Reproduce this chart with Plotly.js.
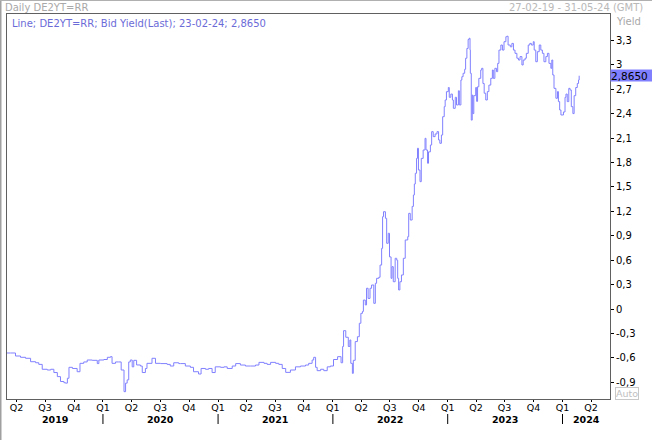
<!DOCTYPE html>
<html>
<head>
<meta charset="utf-8">
<script src="https://cdn.plot.ly/plotly-3.0.1.min.js"></script>
<style>
html,body{margin:0;padding:0;background:#fff;}
#chart{width:652px;height:440px;}
</style>
</head>
<body>
<div id="chart"></div>
<script>
// ---- data ----
const dates = [
"2019-02-27","2019-03-13","2019-03-29","2019-04-14","2019-04-30","2019-05-16","2019-06-01","2019-06-11","2019-06-22","2019-07-08",
"2019-07-19","2019-07-29","2019-08-09","2019-08-19","2019-08-30","2019-09-04","2019-09-10","2019-09-15","2019-09-26","2019-10-11",
"2019-10-20","2019-11-01","2019-11-12","2019-11-28","2019-12-14","2019-12-19","2020-01-04","2020-01-15","2020-01-25","2020-01-30",
"2020-02-10","2020-02-20","2020-02-28","2020-03-08","2020-03-13","2020-03-18","2020-03-23","2020-03-28","2020-04-03","2020-04-08",
"2020-04-17","2020-04-29","2020-05-05","2020-05-15","2020-05-20","2020-06-05","2020-06-16","2020-07-02","2020-07-23","2020-08-02",
"2020-08-13","2020-08-29","2020-09-03","2020-09-19","2020-10-05","2020-10-15","2020-10-31","2020-11-08","2020-11-22","2020-12-02",
"2020-12-13","2020-12-23","2021-01-09","2021-01-20","2021-01-30","2021-02-15","2021-02-26","2021-03-13","2021-03-29","2021-04-14",
"2021-04-30","2021-05-11","2021-05-27","2021-06-06","2021-06-17","2021-07-03","2021-07-13","2021-07-24","2021-08-04","2021-08-19",
"2021-09-04","2021-09-20","2021-10-06","2021-10-16","2021-10-27","2021-11-01","2021-11-07","2021-11-12","2021-11-23","2021-12-03",
"2021-12-14","2021-12-24","2022-01-03","2022-01-16","2022-01-27","2022-02-01","2022-02-04","2022-02-11","2022-02-19","2022-02-24",
"2022-02-27","2022-03-04","2022-03-07","2022-03-13","2022-03-20","2022-03-26","2022-03-31","2022-04-05","2022-04-08","2022-04-14",
"2022-04-18","2022-04-23","2022-04-29","2022-05-04","2022-05-11","2022-05-16","2022-05-20","2022-05-27","2022-05-31","2022-06-05",
"2022-06-08","2022-06-11","2022-06-17","2022-06-21","2022-06-26","2022-06-30","2022-07-05","2022-07-08","2022-07-12","2022-07-18",
"2022-07-23","2022-07-26","2022-07-29","2022-08-02","2022-08-07","2022-08-13","2022-08-19","2022-08-27","2022-08-30","2022-09-04",
"2022-09-10","2022-09-14","2022-09-17","2022-09-20","2022-09-24","2022-09-27","2022-09-30","2022-10-05","2022-10-09","2022-10-15",
"2022-10-21","2022-10-24","2022-10-29","2022-11-01","2022-11-07","2022-11-11","2022-11-16","2022-11-22","2022-11-28","2022-12-03",
"2022-12-07","2022-12-12","2022-12-16","2022-12-21","2022-12-24","2022-12-28","2023-01-03","2023-01-06","2023-01-11","2023-01-16",
"2023-01-19","2023-01-25","2023-01-29","2023-02-04","2023-02-07","2023-02-12","2023-02-15","2023-02-19","2023-02-24","2023-02-27",
"2023-03-03","2023-03-07","2023-03-10","2023-03-13","2023-03-14","2023-03-17","2023-03-20","2023-03-22","2023-03-25","2023-03-31",
"2023-04-03","2023-04-06","2023-04-10","2023-04-16","2023-04-19","2023-04-23","2023-04-27","2023-05-02","2023-05-07","2023-05-12",
"2023-05-18","2023-05-23","2023-05-26","2023-05-31","2023-06-05","2023-06-09","2023-06-13","2023-06-19","2023-06-24","2023-06-29",
"2023-07-05","2023-07-08","2023-07-12","2023-07-19","2023-07-24","2023-07-29","2023-08-03","2023-08-09","2023-08-14","2023-08-19",
"2023-08-25","2023-08-29","2023-09-04","2023-09-08","2023-09-14","2023-09-19","2023-09-24","2023-09-30","2023-10-03","2023-10-08",
"2023-10-13","2023-10-19","2023-10-24","2023-10-29","2023-11-03","2023-11-09","2023-11-14","2023-11-19","2023-11-25","2023-11-28",
"2023-12-01","2023-12-05","2023-12-11","2023-12-16","2023-12-19","2023-12-23","2023-12-27","2024-01-04","2024-01-09","2024-01-12",
"2024-01-16","2024-01-21","2024-01-25","2024-01-29","2024-02-03","2024-02-07","2024-02-12","2024-02-17","2024-02-21","2024-02-23"
];
const yields = [
-0.54,-0.54,-0.577,-0.593,-0.605,-0.647,-0.66,-0.68,-0.74,-0.749,
-0.74,-0.78,-0.83,-0.89,-0.905,-0.91,-0.85,-0.716,-0.73,-0.77,
-0.667,-0.65,-0.626,-0.63,-0.67,-0.626,-0.62,-0.593,-0.585,-0.667,
-0.65,-0.65,-0.749,-1.015,-0.91,-0.87,-0.65,-0.626,-0.71,-0.63,
-0.687,-0.70,-0.78,-0.73,-0.667,-0.605,-0.667,-0.67,-0.68,-0.70,
-0.66,-0.67,-0.67,-0.70,-0.716,-0.77,-0.798,-0.73,-0.74,-0.73,
-0.78,-0.71,-0.716,-0.71,-0.73,-0.70,-0.67,-0.688,-0.70,-0.70,
-0.688,-0.655,-0.667,-0.68,-0.655,-0.667,-0.68,-0.73,-0.778,-0.749,
-0.71,-0.70,-0.688,-0.667,-0.626,-0.593,-0.716,-0.757,-0.74,-0.757,
-0.71,-0.70,-0.62,-0.585,-0.66,-0.46,-0.266,-0.347,-0.46,-0.38,
-0.667,-0.79,-0.63,-0.40,-0.34,-0.175,-0.053,-0.03,0.11,0.05,
0.255,0.13,0.255,0.295,0.07,0.316,0.377,0.39,0.54,0.745,
1.134,1.195,1.114,0.807,0.93,0.64,0.377,0.52,0.335,0.623,
0.60,0.377,0.234,0.335,0.418,0.623,0.848,0.889,1.175,1.093,
1.26,1.40,1.535,1.667,1.85,1.974,1.707,1.564,1.85,1.953,
2.096,1.953,1.79,1.93,2.014,2.178,2.117,2.15,2.178,2.076,
2.035,2.137,2.362,2.485,2.567,2.669,2.72,2.60,2.64,2.567,
2.465,2.60,2.506,2.68,2.506,2.812,2.853,2.895,2.944,3.08,
3.20,3.31,3.325,3.18,2.895,2.32,2.628,2.40,2.62,2.72,
2.55,2.73,2.833,2.935,2.956,2.77,2.65,2.567,2.67,2.75,
2.833,2.935,2.833,2.956,2.915,3.017,3.18,3.242,3.18,3.283,
3.344,3.35,3.242,3.22,3.262,3.18,3.14,3.08,3.058,3.10,
2.997,3.058,3.08,3.14,3.242,3.262,3.242,3.283,3.18,3.037,
3.16,3.242,3.18,3.14,3.037,3.10,3.14,3.017,2.956,3.058,
2.874,2.71,2.588,2.67,2.547,2.444,2.383,2.42,2.60,2.64,
2.547,2.71,2.69,2.485,2.40,2.62,2.72,2.77,2.812,2.865
];
const yTickVals = [-0.9,-0.6,-0.3,0,0.3,0.6,0.9,1.2,1.5,1.8,2.1,2.4,2.7,3,3.3];
const yTickText = ["-0,9","-0,6","-0,3","0","0,3","0,6","0,9","1,2","1,5","1,8","2,1","2,4","2,7","3","3,3"];
const quarterDates = ["2019-04-01","2019-07-01","2019-10-01","2020-01-01","2020-04-01","2020-07-01","2020-10-01",
  "2021-01-01","2021-04-01","2021-07-01","2021-10-01","2022-01-01","2022-04-01","2022-07-01","2022-10-01",
  "2023-01-01","2023-04-01","2023-07-01","2023-10-01","2024-01-01","2024-04-01"];
const quarterLabels = ["Q2","Q3","Q4","Q1","Q2","Q3","Q4","Q1","Q2","Q3","Q4","Q1","Q2","Q3","Q4","Q1","Q2","Q3","Q4","Q1","Q2"];
const years = ["2019","2020","2021","2022","2023","2024"];
const yearStarts = ["2020-01-01","2021-01-01","2022-01-01","2023-01-01","2024-01-01"];
const rangeStart = "2019-03-02";
const rangeEnd = "2024-05-31";
const instrument = "DE2YT=RR";
const headerRange = "27-02-19 - 31-05-24 (GMT)";
const yRange = [-1.105, 3.623];

// ---- layout helpers ----
const L = 7, R = 610, T = 14, B = 399, W = 652, H = 440;
const pw = R - L, ph = B - T;
const px = x => (x - L) / pw;          // pixel x -> paper
const py = y => (B - y) / ph;          // pixel y -> paper
const FONT = "DejaVu Sans";

function ms(d){ return new Date(d + "T00:00:00Z").getTime(); }
function fmtDate(d){ const p = d.split("-"); return p[2] + "-" + p[1] + "-" + p[0].slice(2); }
const lastDate = dates[dates.length - 1];
const lastVal = yields[yields.length - 1];
const lastTxt = lastVal.toFixed(4).replace(".", ",");

const annotations = [];
// year labels centred on the visible part of each year
years.forEach(y => {
  const a = Math.max(ms(y + "-01-01"), ms(rangeStart));
  const b = Math.min(ms((+y + 1) + "-01-01"), ms(rangeEnd));
  const mid = new Date((a + b) / 2).toISOString().slice(0, 10);
  annotations.push({x: mid, xref: "x", y: py(419.5), yref: "paper", text: "<b>" + y + "</b>",
    showarrow: false, font: {family: FONT, size: 9.5, color: "#000"}, xanchor: "center", yanchor: "middle"});
});
annotations.push({x: px(3), xref: "paper", y: py(7.5), yref: "paper", text: "Daily " + instrument,
  showarrow: false, xanchor: "left", yanchor: "middle", font: {family: FONT, size: 10, color: "#a8a8a8"}});
annotations.push({x: px(645), xref: "paper", y: py(7.5), yref: "paper", text: headerRange,
  showarrow: false, xanchor: "right", yanchor: "middle", font: {family: FONT, size: 10, color: "#b8b8b8"}});
annotations.push({x: px(10), xref: "paper", y: py(23), yref: "paper",
  text: "Line; " + instrument + "; Bid Yield(Last); " + fmtDate(lastDate) + "; " + lastTxt,
  showarrow: false, xanchor: "left", yanchor: "middle", font: {family: FONT, size: 10, color: "#6b6bd8"}});
annotations.push({x: px(614), xref: "paper", y: py(21.5), yref: "paper", text: "Yield",
  showarrow: false, xanchor: "left", yanchor: "middle", font: {family: FONT, size: 10, color: "#a8a8a8"}});
annotations.push({x: 1, xref: "paper", y: lastVal, yref: "y", text: lastTxt,
  showarrow: false, xanchor: "left", yanchor: "middle", bgcolor: "#8080ff", borderpad: 0,
  width: 42, height: 11, align: "left", font: {family: FONT, size: 10.5, color: "#000"}});
annotations.push({x: px(627), xref: "paper", y: py(393.5), yref: "paper", text: "Auto",
  showarrow: false, xanchor: "center", yanchor: "middle", bordercolor: "#c8c8c8", borderwidth: 1, borderpad: 0,
  font: {family: FONT, size: 9.5, color: "#c0c0c0"}});

const shapes = [];
yearStarts.forEach(d => {
  shapes.push({type: "line", xref: "x", yref: "paper", x0: d, x1: d, y0: py(424), y1: py(414),
    line: {color: "#000", width: 1}});
});
// outer frame (left and top edges)
shapes.push({type: "line", xref: "paper", yref: "paper", x0: px(0.5), x1: px(0.5), y0: py(440), y1: py(0),
  line: {color: "#a0a0a0", width: 2}});
shapes.push({type: "line", xref: "paper", yref: "paper", x0: px(0), x1: px(652), y0: py(0.5), y1: py(0.5),
  line: {color: "#b0b0b0", width: 1}});

const trace = {
  x: dates, y: yields, type: "scatter", mode: "lines",
  line: {color: "#8080ff", width: 1, shape: "hv"}, hoverinfo: "skip"
};

const layout = {
  width: W, height: H,
  margin: {l: L, r: W - R, t: T, b: H - B, pad: 0},
  paper_bgcolor: "#fff", plot_bgcolor: "#fff",
  showlegend: false,
  xaxis: {
    type: "date", range: [rangeStart, rangeEnd], tickmode: "array",
    tickvals: quarterDates, ticktext: quarterLabels,
    showgrid: false, zeroline: false, showline: true, linecolor: "#606060", linewidth: 1, mirror: true,
    ticks: "outside", ticklen: 2, tickcolor: "#000", ticklabelstandoff: -2,
    tickfont: {family: FONT, size: 9.5, color: "#000"},
    fixedrange: true
  },
  yaxis: {
    side: "right", range: yRange, tickmode: "array", tickvals: yTickVals, ticktext: yTickText,
    showgrid: false, zeroline: false, showline: true, linecolor: "#606060", linewidth: 1, mirror: true,
    ticks: "outside", ticklen: 3, tickcolor: "#000", tickfont: {family: FONT, size: 10, color: "#000"},
    fixedrange: true
  },
  annotations: annotations,
  shapes: shapes
};

Plotly.newPlot("chart", [trace], layout, {staticPlot: true, displayModeBar: false});
</script>
</body>
</html>
